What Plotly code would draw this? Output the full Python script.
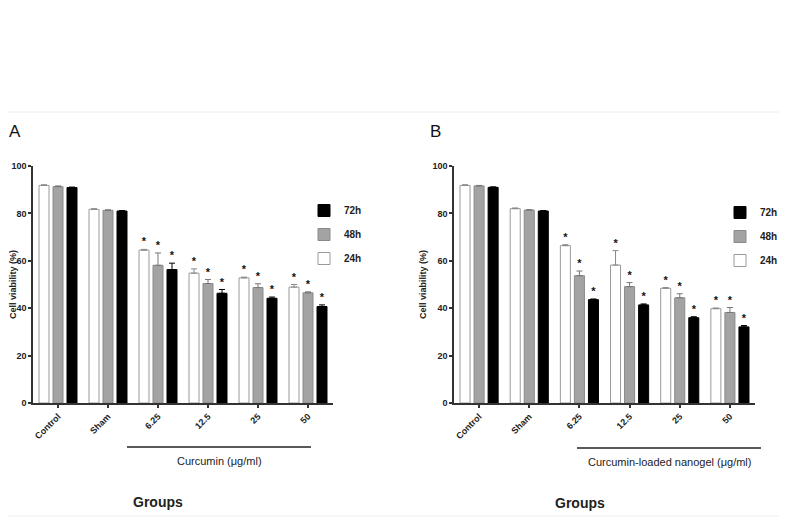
import plotly.graph_objects as go

groups = ["Control", "Sham", "6.25", "12.5", "25", "50"]
series = ["24h", "48h", "72h"]

a_24 = [91.8, 81.7, 64.5, 54.8, 52.8, 48.9]
a_24_err = [0.3, 0.3, 0.3, 1.8, 0.3, 1.1]
a_48 = [91.3, 81.3, 58.1, 50.4, 48.7, 46.5]
a_48_err = [0.3, 0.2, 5.2, 1.7, 1.6, 0.4]
a_72 = [90.9, 81.0, 56.3, 46.3, 44.2, 40.7]
a_72_err = [0.2, 0.2, 2.7, 1.6, 0.5, 0.7]

b_24 = [91.8, 82.0, 66.4, 58.2, 48.4, 39.8]
b_24_err = [0.3, 0.3, 0.4, 6.1, 0.3, 0.3]
b_48 = [91.6, 81.4, 53.7, 49.1, 44.4, 38.2]
b_48_err = [0.2, 0.2, 2.0, 1.7, 1.7, 2.1]
b_72 = [91.0, 81.0, 43.6, 41.4, 36.0, 32.1]
b_72_err = [0.2, 0.2, 0.3, 0.4, 0.4, 0.6]

significant = [False, False, True, True, True, True]

yticks = [0, 20, 40, 60, 80, 100]

fills = ["#ffffff", "#a3a3a3", "#000000"]
edges = ["#9a9a9a", "#8a8a8a", "#000000"]
errc = ["#8a8a8a", "#777777", "#000000"]

FONT = "Liberation Sans, Arial, sans-serif"
# The page body keeps its default 8px margin; the figure is a bit larger than the
# remaining window so the right-hand legend does not push the plot margins.
OFF = 8
W, H = 800, 512

fig = go.Figure()

panels = [
    ("x", "y", "legend", [a_24, a_48, a_72], [a_24_err, a_48_err, a_72_err]),
    ("x2", "y2", "legend2", [b_24, b_48, b_72], [b_24_err, b_48_err, b_72_err]),
]

step = 0.28
for xa, ya, leg, vals, errs in panels:
    for j, name in enumerate(series):
        xs = [i + (j - 1) * step for i in range(len(groups))]
        fig.add_trace(go.Bar(
            x=xs, y=vals[j], width=0.2, name=name,
            xaxis=xa, yaxis=ya, legend=leg, legendgroup=leg + name,
            legendrank=3 - j,
            marker=dict(color=fills[j], line=dict(color=edges[j], width=1)),
            error_y=dict(type="data", symmetric=False, array=errs[j],
                         arrayminus=[0] * len(groups), color=errc[j],
                         thickness=1, width=3),
            showlegend=True,
        ))
    for j, name in enumerate(series):
        sx, sy = [], []
        for i in range(len(groups)):
            if significant[i]:
                sx.append(i + (j - 1) * step)
                sy.append(vals[j][i] + errs[j][i] + 0.5)
        fig.add_trace(go.Scatter(
            x=sx, y=sy, mode="text", text=["*"] * len(sx),
            textposition="top center",
            textfont=dict(size=11, color="#111", family=FONT, weight="bold"),
            xaxis=xa, yaxis=ya, showlegend=False, hoverinfo="skip",
        ))


def px_x(p):
    return (p - OFF) / W


def px_y(p):
    return 1 - (p - OFF) / H


ydom = [px_y(403), px_y(166)]
axis_common = dict(showline=True, linecolor="#333", linewidth=1.5, ticks="outside",
                   ticklen=3, tickcolor="#333", tickwidth=1.5, showgrid=False, zeroline=False,
                   automargin=False)

for xd, name in [([33, 333], ""), ([454, 755], "2")]:
    fig.update_layout(**{
        "xaxis" + name: dict(domain=[px_x(xd[0]), px_x(xd[1])], range=[-0.5, 5.5],
                             tickvals=list(range(len(groups))), ticktext=groups,
                             tickangle=-45, anchor="y" + name,
                             tickfont=dict(size=9, family=FONT, color="#222", weight="bold"),
                             **axis_common),
        "yaxis" + name: dict(domain=ydom, range=[0, 100], tickvals=yticks,
                             anchor="x" + name,
                             tickfont=dict(size=9, family=FONT, color="#222", weight="bold"),
                             title=dict(text="Cell viability (%)", standoff=4,
                                        font=dict(size=9, family=FONT, color="#222", weight="bold")),
                             **axis_common),
    })

legend_common = dict(traceorder="grouped", tracegroupgap=5, bgcolor="rgba(0,0,0,0)",
                     font=dict(size=10, family=FONT, color="#222", weight="bold"),
                     xanchor="left", yanchor="top", itemwidth=30)

fig.update_layout(
    width=W, height=H, margin=dict(l=0, r=0, t=0, b=0),
    paper_bgcolor="white", plot_bgcolor="white",
    barmode="overlay", showlegend=True,
    legend=dict(x=px_x(304), y=px_y(196), **legend_common),
    legend2=dict(x=px_x(720), y=px_y(198), **legend_common),
    font=dict(family=FONT, color="#222"),
)

annotations = [
    dict(text="A", x=px_x(7), y=px_y(131), xanchor="left", yanchor="middle",
         font=dict(size=17, family=FONT, color="#111")),
    dict(text="B", x=px_x(428), y=px_y(131), xanchor="left", yanchor="middle",
         font=dict(size=17, family=FONT, color="#111")),
    dict(text="Curcumin (μg/ml)", x=px_x(219), y=px_y(461), xanchor="center", yanchor="middle",
         font=dict(size=11, family=FONT, color="#222")),
    dict(text="Curcumin-loaded nanogel (μg/ml)", x=px_x(669), y=px_y(462), xanchor="center",
         yanchor="middle", font=dict(size=11, family=FONT, color="#222")),
    dict(text="Groups", x=px_x(158), y=px_y(502), xanchor="center", yanchor="middle",
         font=dict(size=14, family=FONT, color="#222", weight="bold")),
    dict(text="Groups", x=px_x(580), y=px_y(503), xanchor="center", yanchor="middle",
         font=dict(size=14, family=FONT, color="#222", weight="bold")),
]
for a in annotations:
    a.update(xref="paper", yref="paper", showarrow=False)
fig.update_layout(annotations=annotations)

shapes = [
    dict(type="line", x0=px_x(127), x1=px_x(311), y0=px_y(447), y1=px_y(447),
         line=dict(color="#222", width=1.5)),
    dict(type="line", x0=px_x(577), x1=px_x(761), y0=px_y(448), y1=px_y(448),
         line=dict(color="#222", width=1.5)),
    dict(type="line", x0=0, x1=1, y0=px_y(112), y1=px_y(112),
         line=dict(color="#eeeeee", width=1)),
    dict(type="line", x0=0, x1=1, y0=px_y(516), y1=px_y(516),
         line=dict(color="#eeeeee", width=1)),
]
for s in shapes:
    s.update(xref="paper", yref="paper")
fig.update_layout(shapes=shapes)

fig.write_html("out.html")
